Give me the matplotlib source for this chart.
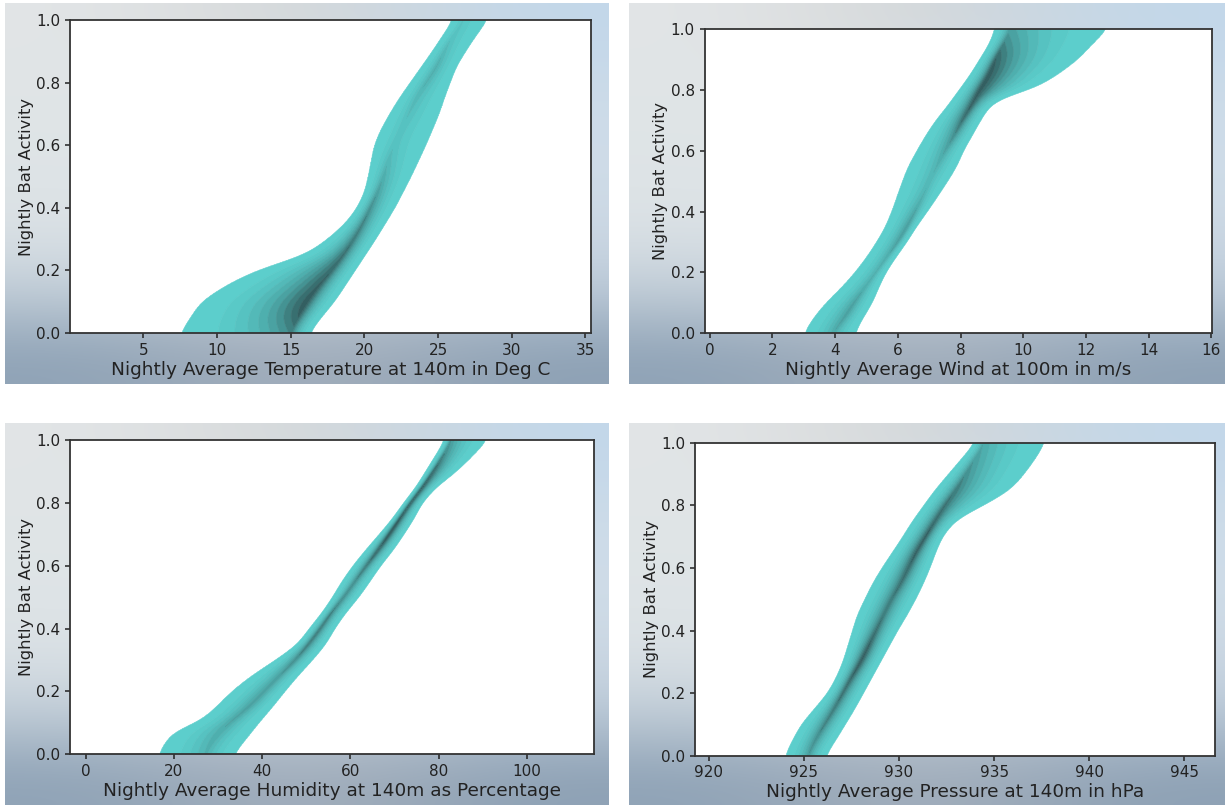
import numpy as np
import matplotlib
matplotlib.use("Agg")
import matplotlib.pyplot as plt
from matplotlib.colors import LinearSegmentedColormap

# ================================================================
# DATA (band edges and ridge per activity level)
# ================================================================

activity = [0.00, 0.05, 0.10, 0.15, 0.20, 0.25, 0.30, 0.35, 0.40, 0.45, 0.50,
            0.55, 0.60, 0.65, 0.70, 0.75, 0.80, 0.85, 0.90, 0.95, 1.00]

# temperature at 140m (deg C)
temp_lo   = [7.5, 8.2, 8.9, 10.5, 12.6, 16.0, 17.5, 18.7, 19.5, 20.0, 20.25,
             20.45, 20.65, 21.1, 21.7, 22.35, 23.1, 23.85, 24.6, 25.3, 26.0]
temp_hi   = [16.3, 17.1, 18.0, 18.7, 19.4, 20.1, 20.8, 21.45, 22.1, 22.65, 23.2,
             23.7, 24.2, 24.65, 25.1, 25.45, 25.85, 26.25, 26.9, 27.6, 28.4]
temp_mid  = [15.0, 15.5, 16.1, 16.9, 17.8, 18.6, 19.3, 19.9, 20.4, 20.9, 21.3,
             21.6, 22.0, 22.5, 23.0, 23.5, 24.2, 24.9, 25.4, 26.0, 26.8]
temp_peak = [0.7, 0.95, 1.0, 0.95, 0.9, 0.85, 0.8, 0.75, 0.7, 0.6, 0.5,
             0.4, 0.3, 0.3, 0.35, 0.4, 0.45, 0.5, 0.4, 0.3, 0.25]

# wind at 100m (m/s) - extra levels for the notch near 0.8
wind_act  = [0.00, 0.05, 0.10, 0.15, 0.20, 0.25, 0.30, 0.35, 0.40, 0.45, 0.50,
             0.55, 0.60, 0.65, 0.70, 0.75, 0.78, 0.80, 0.85, 0.90, 0.95, 1.00]
wind_lo   = [3.0, 3.3, 3.7, 4.2, 4.63, 5.0, 5.32, 5.6, 5.8, 5.97, 6.14,
             6.33, 6.6, 6.88, 7.2, 7.6, 7.8, 7.95, 8.3, 8.6, 8.9, 9.1]
wind_hi   = [4.64, 4.9, 5.2, 5.4, 5.63, 5.95, 6.3, 6.6, 6.95, 7.28, 7.6,
             7.9, 8.1, 8.38, 8.65, 8.95, 9.4, 10.3, 11.1, 11.75, 12.2, 12.7]
wind_mid  = [3.9, 4.3, 4.6, 4.95, 5.3, 5.65, 6.0, 6.3, 6.55, 6.8, 7.0,
             7.25, 7.5, 7.8, 8.05, 8.35, 8.5, 8.6, 8.9, 9.1, 9.35, 9.6]
wind_peak = [0.5, 0.6, 0.6, 0.5, 0.45, 0.5, 0.6, 0.65, 0.55, 0.45, 0.4,
             0.45, 0.55, 0.7, 0.85, 0.95, 1.0, 1.0, 1.0, 0.95, 0.75, 0.55]

# humidity at 140m (%)
hum_act   = [0.00, 0.05, 0.08, 0.10, 0.15, 0.20, 0.25, 0.30, 0.35, 0.40, 0.45,
             0.50, 0.55, 0.60, 0.65, 0.70, 0.75, 0.80, 0.85, 0.90, 0.95, 1.00]
hum_lo    = [16.4, 18.5, 20.5, 25.5, 29.5, 33.0, 37.5, 43.0, 48.0, 50.6, 53.5,
             55.9, 58.0, 60.5, 63.4, 66.5, 69.5, 72.0, 74.8, 77.0, 79.2, 81.4]
hum_hi    = [33.6, 36.5, 38.2, 39.3, 42.4, 45.2, 48.2, 51.5, 54.5, 56.5, 59.0,
             62.0, 64.5, 66.9, 69.8, 72.2, 74.5, 76.3, 79.5, 84.2, 87.8, 91.2]
hum_mid   = [27.0, 29.0, 31.0, 32.5, 37.0, 40.5, 44.0, 47.5, 50.5, 53.2, 55.6,
             58.5, 61.0, 63.6, 66.3, 68.8, 71.2, 73.6, 76.4, 78.8, 81.0, 83.0]
hum_peak  = [0.45, 0.5, 0.52, 0.55, 0.6, 0.6, 0.6, 0.7, 0.8, 0.8, 0.75,
             0.7, 0.7, 0.8, 0.9, 1.0, 0.95, 0.9, 0.95, 0.9, 0.75, 0.6]

# pressure at 140m (hPa)
pres_act  = [0.00, 0.05, 0.10, 0.15, 0.20, 0.25, 0.30, 0.35, 0.40, 0.45, 0.50,
             0.55, 0.60, 0.65, 0.70, 0.75, 0.77, 0.80, 0.85, 0.90, 0.95, 1.00]
pres_lo   = [924.0, 924.4, 924.85, 925.55, 926.25, 926.7, 927.05, 927.3, 927.55,
             927.8, 928.2, 928.6, 929.1, 929.65, 930.2, 930.7, 930.95, 931.3,
             931.9, 932.6, 933.3, 934.0]
pres_hi   = [926.16, 926.7, 927.2, 927.7, 928.15, 928.6, 929.05, 929.5, 929.95,
             930.45, 930.9, 931.3, 931.65, 931.95, 932.3, 932.95, 933.5, 934.5,
             935.9, 936.6, 937.2, 937.7]
pres_mid  = [925.2, 925.6, 926.1, 926.6, 927.05, 927.5, 928.0, 928.4, 928.8,
             929.2, 929.6, 930.1, 930.5, 930.9, 931.4, 931.9, 932.1, 932.4,
             933.0, 933.5, 934.0, 934.5]
pres_peak = [0.6, 0.7, 0.75, 0.8, 0.85, 0.9, 1.0, 0.95, 0.85, 0.8, 0.8,
             0.85, 0.9, 0.95, 0.95, 0.9, 0.88, 0.85, 0.8, 0.7, 0.6, 0.5]

panels = [
    dict(act=activity, lo=temp_lo, hi=temp_hi, mid=temp_mid, peak=temp_peak,
         xlim=(0.05, 35.4), xticks=[5, 10, 15, 20, 25, 30, 35],
         xlabel="Nightly Average Temperature at 140m in Deg C",
         pos=[0.0574, 0.5863, 0.4253, 0.3889]),
    dict(act=wind_act, lo=wind_lo, hi=wind_hi, mid=wind_mid, peak=wind_peak,
         xlim=(-0.16, 16.02), xticks=[0, 2, 4, 6, 8, 10, 12, 14, 16],
         xlabel="Nightly Average Wind at 100m in m/s",
         pos=[0.5752, 0.5860, 0.4142, 0.3776]),
    dict(act=hum_act, lo=hum_lo, hi=hum_hi, mid=hum_mid, peak=hum_peak,
         xlim=(-3.5, 115.2), xticks=[0, 20, 40, 60, 80, 100],
         xlabel="Nightly Average Humidity at 140m as Percentage",
         pos=[0.0574, 0.0630, 0.4275, 0.3904]),
    dict(act=pres_act, lo=pres_lo, hi=pres_hi, mid=pres_mid, peak=pres_peak,
         xlim=(919.3, 946.6), xticks=[920, 925, 930, 935, 940, 945],
         xlabel="Nightly Average Pressure at 140m in hPa",
         pos=[0.5676, 0.0612, 0.4241, 0.3889]),
]

# ================================================================
# HELPERS
# ================================================================

THR = 0.05
Q = 1.8
cmap = LinearSegmentedColormap.from_list(
    "bat", ["#5dd0ce", "#58c6c5", "#51b5b4", "#479c9c", "#3b7778", "#31585a"])


def smooth(v, sigma):
    k = np.exp(-0.5 * (np.arange(-3 * sigma, 3 * sigma + 1) / sigma) ** 2)
    k /= k.sum()
    pad = len(k) // 2
    vp = np.pad(v, pad, mode="edge")
    return np.convolve(vp, k, mode="valid")


def band_density(xs, ys, p):
    # ridge profiles along activity, rounded off like a kde contour
    L = smooth(np.interp(ys, p["act"], p["lo"]), 9)
    H = smooth(np.interp(ys, p["act"], p["hi"]), 9)
    M = smooth(np.interp(ys, p["act"], p["mid"]), 9)
    P = smooth(np.interp(ys, p["act"], p["peak"]), 12)
    xx = xs[None, :]
    L, H, M, P = L[:, None], H[:, None], M[:, None], P[:, None]
    t = np.where(xx < M, (M - xx) / (M - L), (xx - M) / (H - M))
    d = THR + (P - THR) * np.clip(1 - t, 0, None) ** Q
    return np.where(t > 1, THR * np.exp(-(t - 1) * 4), d)


def background(fig, rect):
    # blurred screenshot backdrop behind each panel
    ax = fig.add_axes(rect, zorder=-10)
    colors = np.array([
        [[226, 229, 231], [212, 214, 214], [194, 215, 234]],
        [[224, 229, 231], [226, 229, 232], [204, 219, 233]],
        [[222, 228, 230], [224, 229, 232], [206, 220, 232]],
        [[220, 226, 230], [222, 228, 232], [204, 216, 228]],
        [[196, 208, 218], [206, 214, 222], [190, 204, 218]],
        [[142, 162, 182], [166, 176, 188], [140, 160, 180]],
    ]) / 255.0
    ax.imshow(colors, aspect="auto", interpolation="bicubic", extent=(0, 1, 0, 1))
    ax.axis("off")


# ================================================================
# FIGURE
# ================================================================

fig = plt.figure(figsize=(12.25, 8.05), dpi=100)
fig.patch.set_facecolor("white")

for rect in [[5 / 1225, 1 - 384 / 805, 604 / 1225, 381 / 805],
             [629 / 1225, 1 - 384 / 805, 596 / 1225, 381 / 805],
             [5 / 1225, 0, 604 / 1225, 382 / 805],
             [629 / 1225, 0, 596 / 1225, 382 / 805]]:
    background(fig, rect)

levels = np.linspace(THR, 1.0001, 11)

for p in panels:
    ax = fig.add_axes(p["pos"])
    ax.set_facecolor("white")
    xs = np.linspace(p["xlim"][0], p["xlim"][1], 700)
    ys = np.linspace(-0.15, 1.15, 600)
    dens = band_density(xs, ys, p)
    cs = ax.contourf(xs, ys, dens, levels=levels, cmap=cmap, antialiased=True)
    cs.set_edgecolor("face")
    cs.set_linewidth(0.4)
    ax.set_xlim(p["xlim"])
    ax.set_ylim(0, 1)
    ax.set_xticks(p["xticks"])
    ax.set_yticks([0, 0.2, 0.4, 0.6, 0.8, 1.0])
    ax.set_yticklabels(["0.0", "0.2", "0.4", "0.6", "0.8", "1.0"])
    ax.tick_params(labelsize=11, colors="#222222", width=1.1)
    for s in ax.spines.values():
        s.set_color("#333333")
        s.set_linewidth(1.3)
    ax.set_xlabel(p["xlabel"], fontsize=13.3, color="#222222", labelpad=2)
    ax.set_ylabel("Nightly Bat Activity", fontsize=11.8, color="#222222", labelpad=2)

fig.savefig("out.png", dpi=100)
